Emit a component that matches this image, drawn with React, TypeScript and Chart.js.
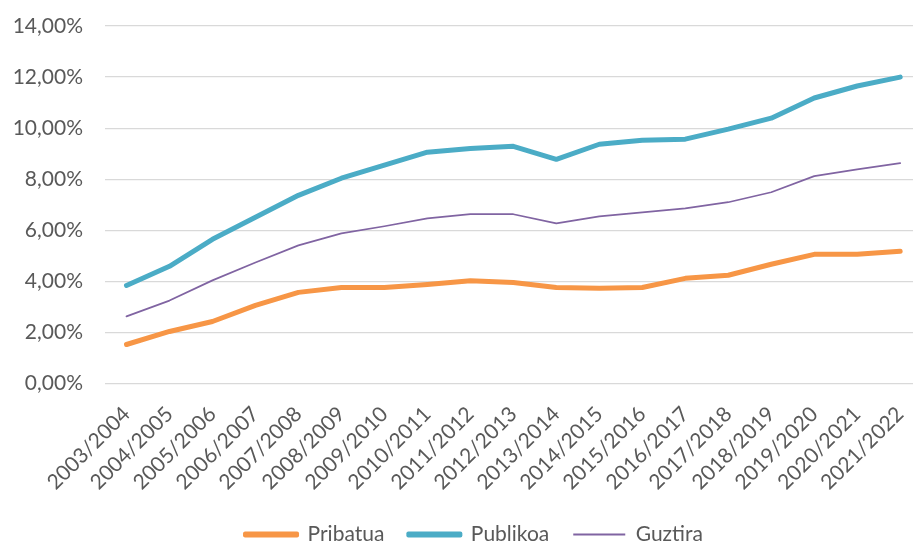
import { useEffect, useRef } from "react";
import { Chart, registerables } from "chart.js";

Chart.register(...registerables);

const categories = [
  "2003/2004", "2004/2005", "2005/2006", "2006/2007", "2007/2008", "2008/2009",
  "2009/2010", "2010/2011", "2011/2012", "2012/2013", "2013/2014", "2014/2015",
  "2015/2016", "2016/2017", "2017/2018", "2018/2019", "2019/2020", "2020/2021", "2021/2022",
];

const pribatua = [1.53, 2.04, 2.43, 3.06, 3.57, 3.76, 3.76, 3.88, 4.03, 3.96, 3.76, 3.73, 3.76, 4.12, 4.24, 4.67, 5.06, 5.06, 5.18];
const publikoa = [3.84, 4.59, 5.65, 6.51, 7.37, 8.04, 8.55, 9.06, 9.2, 9.29, 8.78, 9.37, 9.53, 9.57, 9.96, 10.39, 11.18, 11.65, 12.0];
const guztira = [2.63, 3.25, 4.04, 4.74, 5.41, 5.88, 6.16, 6.47, 6.63, 6.63, 6.27, 6.55, 6.7, 6.86, 7.1, 7.49, 8.12, 8.39, 8.63];

const seriesNames = ["Pribatua", "Publikoa", "Guztira"];
const seriesColors = ["#F79646", "#4BACC6", "#8064A2"];
const seriesWidths = [5, 5, 1.75];

const yMin = 0;
const yMax = 14;
const yStep = 2;

const FONT = { family: "Lato", size: 21 };
const TEXT_COLOR = "#595959";

export default function App() {
  const ref = useRef<HTMLCanvasElement>(null);

  useEffect(() => {
    document.body.style.margin = "0";
    const values = [pribatua, publikoa, guztira];
    const shiftLegend = {
      id: "shiftLegend",
      afterLayout(chart: any) {
        const lg = chart.legend;
        if (lg) {
          lg.left += 10;
          lg.right += 10;
        }
      },
    };
    const chart = new Chart(ref.current!, {
      type: "line",
      data: {
        labels: categories,
        datasets: values.map((v, i) => ({
          label: seriesNames[i],
          data: v,
          borderColor: seriesColors[i],
          backgroundColor: seriesColors[i],
          borderWidth: seriesWidths[i],
          borderCapStyle: "round",
          borderJoinStyle: "round",
          pointRadius: 0,
          tension: 0,
          fill: false,
        })),
      },
      options: {
        responsive: false,
        animation: false,
        layout: { padding: { top: 26, right: 0, bottom: -10, left: 0 } },
        scales: {
          x: {
            offset: true,
            grid: { display: false },
            border: { display: false },
            ticks: {
              autoSkip: false,
              minRotation: 45,
              maxRotation: 45,
              font: FONT,
              color: TEXT_COLOR,
              padding: 10,
            },
            afterFit: (s: any) => {
              s.height -= 5;
            },
          },
          y: {
            min: yMin,
            max: yMax,
            grid: { color: "#D9D9D9", drawTicks: false, lineWidth: 1.3 },
            border: { display: false },
            ticks: {
              stepSize: yStep,
              font: FONT,
              color: TEXT_COLOR,
              padding: 22,
              callback: (v: any) => Number(v).toFixed(2).replace(".", ",") + "%",
            },
            afterFit: (s: any) => {
              s.width = 105;
              s.paddingTop = 0;
              s.paddingBottom = 0;
            },
          },
        },
        plugins: {
          tooltip: { enabled: false },
          legend: {
            position: "bottom",
            labels: {
              font: FONT,
              color: TEXT_COLOR,
              boxWidth: 52,
              boxHeight: 2,
              padding: 24,
              generateLabels: (c: any) =>
                c.data.datasets.map((ds: any, i: number) => ({
                  text: ds.label,
                  fillStyle: ds.borderColor,
                  strokeStyle: ds.borderColor,
                  lineWidth: ds.borderWidth > 3 ? 4 : 0,
                  lineCap: "round",
                  lineJoin: "round",
                  hidden: false,
                  datasetIndex: i,
                  fontColor: TEXT_COLOR,
                })),
            },
          },
        },
      },
      plugins: [shiftLegend],
    } as any);
    return () => chart.destroy();
  }, []);

  return (
    <div style={{ width: 913, height: 545, overflow: "hidden" }}>
      <canvas ref={ref} width={928} height={545} style={{ display: "block" }} />
    </div>
  );
}
